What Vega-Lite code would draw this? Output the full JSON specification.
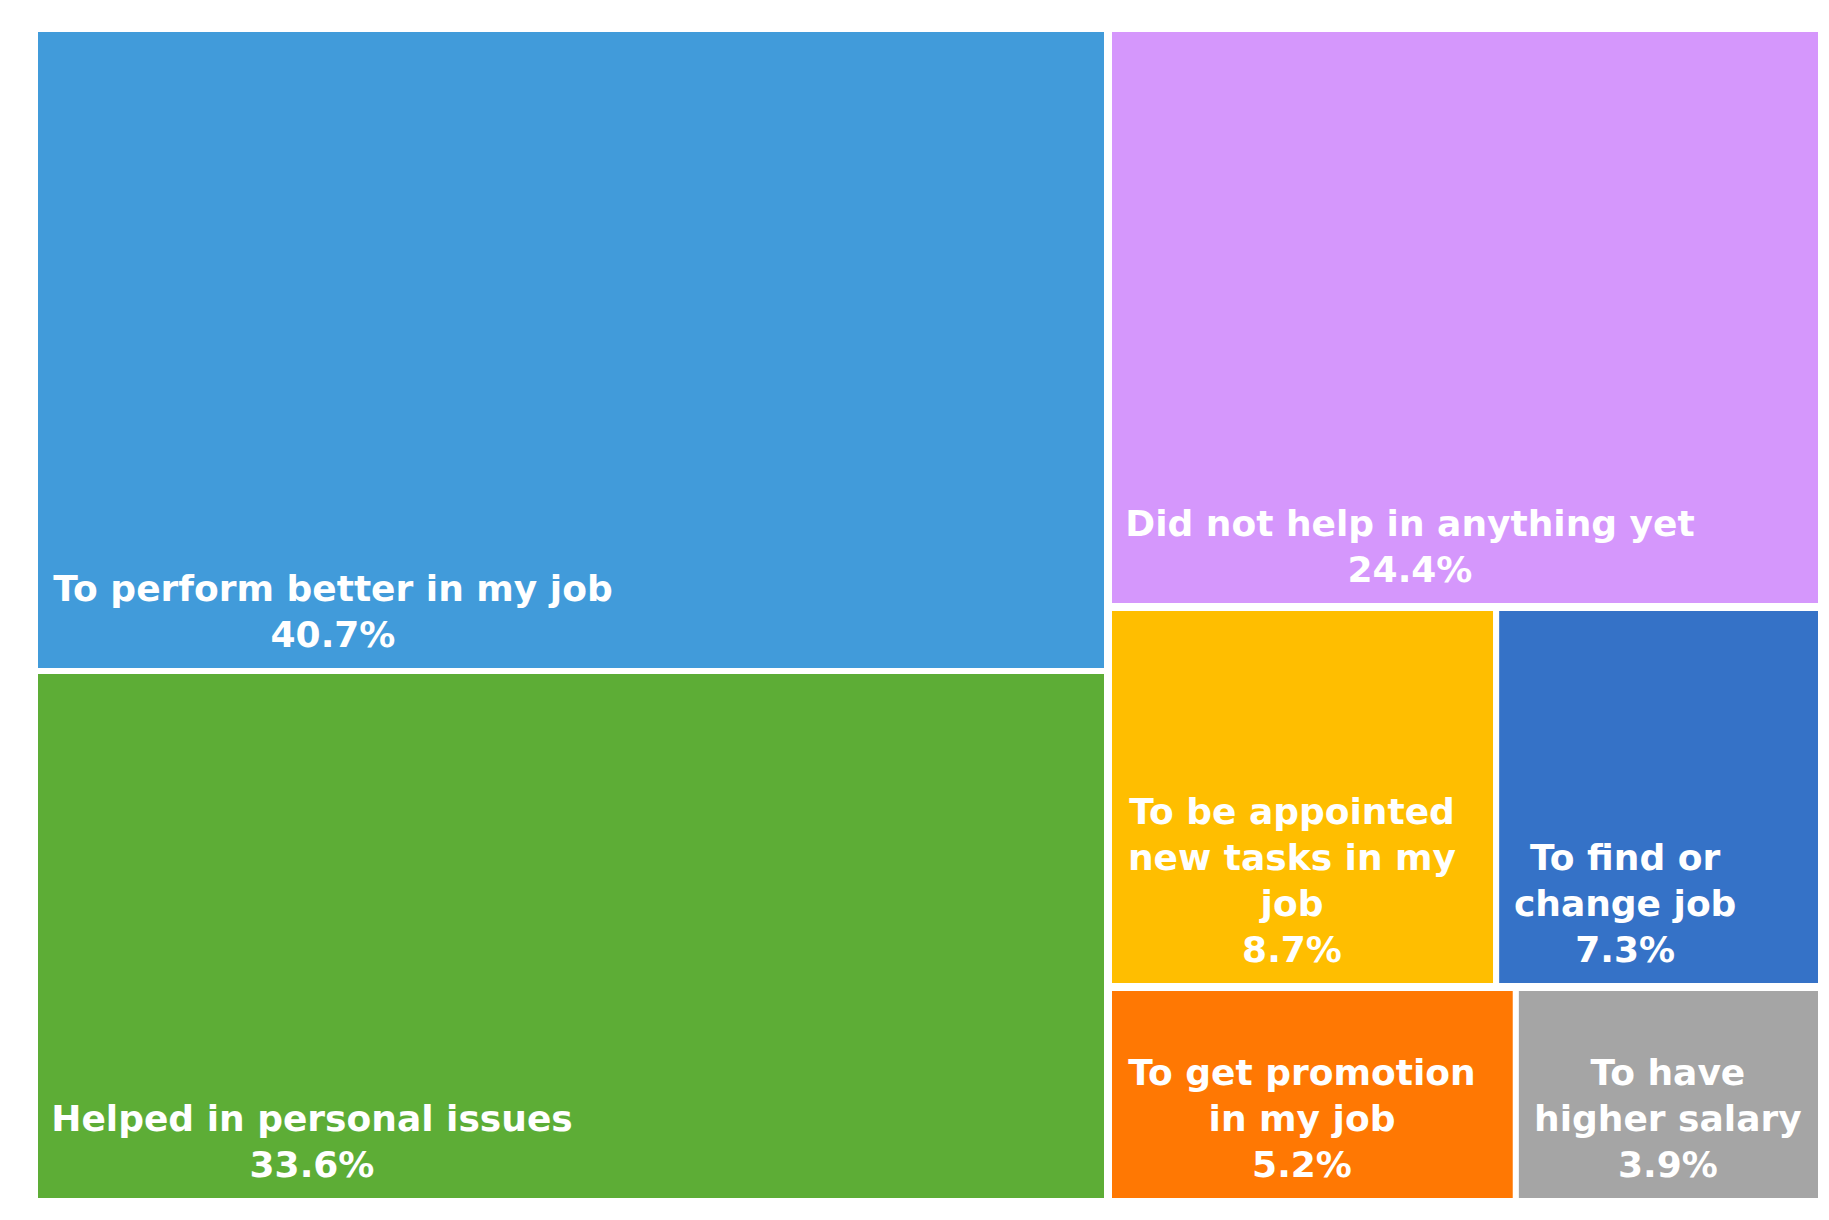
{
  "$schema": "https://vega.github.io/schema/vega-lite/v6.json",
  "description": "Treemap of what the training helped with",
  "background": "white",
  "padding": {"left": 32, "top": 26, "right": 5, "bottom": 16},
  "bounds": "flush",
  "spacing": 2,
  "data": {
    "values": [
      {"name": "To perform better in my job", "share": 0.407, "group": "left", "rank": 1},
      {"name": "Helped in personal issues", "share": 0.336, "group": "left", "rank": 2},
      {"name": "Did not help in anything yet", "share": 0.244, "group": "top", "rank": 1},
      {"name": "To be appointed\nnew tasks in my\njob", "share": 0.087, "group": "middle", "rank": 1},
      {"name": "To find or\nchange job", "share": 0.073, "group": "middle", "rank": 2},
      {"name": "To get promotion\nin my job", "share": 0.052, "group": "bottom", "rank": 1},
      {"name": "To have\nhigher salary", "share": 0.039, "group": "bottom", "rank": 2}
    ]
  },
  "resolve": {"scale": {"x": "independent", "y": "independent"}},
  "hconcat": [
    {
      "width": 1072,
      "height": 1172,
      "transform": [
        {"filter": "datum.group === 'left'"},
        {"stack": "share", "groupby": [], "sort": [{"field": "rank", "order": "ascending"}], "offset": "normalize", "as": ["p0", "p1"]}
      ],
      "layer": [
        {
          "mark": {"type": "rect", "stroke": "white", "strokeWidth": 6},
          "encoding": {
            "x": {"value": 0},
            "x2": {"value": "width"},
            "y": {"field": "p0", "type": "quantitative", "scale": {"domain": [0, 1], "reverse": true, "nice": false, "zero": false}, "axis": null},
            "y2": {"field": "p1"},
            "color": {"field": "name", "type": "nominal", "legend": null, "scale": {
              "domain": ["To perform better in my job", "Helped in personal issues", "Did not help in anything yet", "To be appointed\nnew tasks in my\njob", "To find or\nchange job", "To get promotion\nin my job", "To have\nhigher salary"],
              "range": ["#419BDA", "#5DAD36", "#D597FC", "#FFBE00", "#3572C7", "#FF7803", "#A5A5A5"]}}
          }
        },
        {
          "transform": [{"filter": "datum.rank === 1"}],
          "encoding": {"x": {"value": 0}, "y": {"field": "p1", "type": "quantitative"}},
          "layer": [
            {"mark": {"type": "text", "dx": 298, "dy": -62}, "encoding": {"text": {"field": "name"}}},
            {"mark": {"type": "text", "dx": 298, "dy": -16}, "encoding": {"text": {"field": "share", "format": ".1%"}}}
          ]
        },
        {
          "transform": [{"filter": "datum.rank === 2"}],
          "encoding": {"x": {"value": 0}, "y": {"field": "p1", "type": "quantitative"}},
          "layer": [
            {"mark": {"type": "text", "dx": 277, "dy": -62}, "encoding": {"text": {"field": "name"}}},
            {"mark": {"type": "text", "dx": 277, "dy": -16}, "encoding": {"text": {"field": "share", "format": ".1%"}}}
          ]
        }
      ]
    },
    {
      "resolve": {"scale": {"x": "independent", "y": "independent"}},
      "bounds": "flush",
      "spacing": 2,
      "vconcat": [
        {
          "width": 712,
          "height": 577,
          "transform": [
            {"filter": "datum.group === 'top'"},
            {"stack": "share", "groupby": [], "sort": [{"field": "rank", "order": "ascending"}], "offset": "normalize", "as": ["p0", "p1"]}
          ],
          "layer": [
            {
              "mark": {"type": "rect", "stroke": "white", "strokeWidth": 6},
              "encoding": {
                "x": {"field": "p0", "type": "quantitative", "scale": {"domain": [0, 1], "nice": false, "zero": false}, "axis": null},
                "x2": {"field": "p1"},
                "y": {"value": 0},
                "y2": {"value": "height"},
                "color": {"field": "name", "type": "nominal", "legend": null}
              }
            },
            {
              "encoding": {"x": {"field": "p0", "type": "quantitative"}, "y": {"value": "height"}},
              "layer": [
                {"mark": {"type": "text", "dx": 301, "dy": -62}, "encoding": {"text": {"field": "name"}}},
                {"mark": {"type": "text", "dx": 301, "dy": -16}, "encoding": {"text": {"field": "share", "format": ".1%"}}}
              ]
            }
          ]
        },
        {
          "width": 712,
          "height": 378,
          "transform": [
            {"filter": "datum.group === 'middle'"},
            {"stack": "share", "groupby": [], "sort": [{"field": "rank", "order": "ascending"}], "offset": "normalize", "as": ["p0", "p1"]}
          ],
          "layer": [
            {
              "mark": {"type": "rect", "stroke": "white", "strokeWidth": 6},
              "encoding": {
                "x": {"field": "p0", "type": "quantitative", "scale": {"domain": [0, 1], "nice": false, "zero": false}, "axis": null},
                "x2": {"field": "p1"},
                "y": {"value": 0},
                "y2": {"value": "height"},
                "color": {"field": "name", "type": "nominal", "legend": null}
              }
            },
            {
              "transform": [{"filter": "datum.rank === 1"}],
              "encoding": {"x": {"field": "p0", "type": "quantitative"}, "y": {"value": "height"}},
              "layer": [
                {"mark": {"type": "text", "dx": 183, "dy": -154}, "encoding": {"text": {"field": "name"}}},
                {"mark": {"type": "text", "dx": 183, "dy": -16}, "encoding": {"text": {"field": "share", "format": ".1%"}}}
              ]
            },
            {
              "transform": [{"filter": "datum.rank === 2"}],
              "encoding": {"x": {"field": "p0", "type": "quantitative"}, "y": {"value": "height"}},
              "layer": [
                {"mark": {"type": "text", "dx": 129, "dy": -108}, "encoding": {"text": {"field": "name"}}},
                {"mark": {"type": "text", "dx": 129, "dy": -16}, "encoding": {"text": {"field": "share", "format": ".1%"}}}
              ]
            }
          ]
        },
        {
          "width": 712,
          "height": 213,
          "transform": [
            {"filter": "datum.group === 'bottom'"},
            {"stack": "share", "groupby": [], "sort": [{"field": "rank", "order": "ascending"}], "offset": "normalize", "as": ["p0", "p1"]}
          ],
          "layer": [
            {
              "mark": {"type": "rect", "stroke": "white", "strokeWidth": 6},
              "encoding": {
                "x": {"field": "p0", "type": "quantitative", "scale": {"domain": [0, 1], "nice": false, "zero": false}, "axis": null},
                "x2": {"field": "p1"},
                "y": {"value": 0},
                "y2": {"value": "height"},
                "color": {"field": "name", "type": "nominal", "legend": null}
              }
            },
            {
              "transform": [{"filter": "datum.rank === 1"}],
              "encoding": {"x": {"field": "p0", "type": "quantitative"}, "y": {"value": "height"}},
              "layer": [
                {"mark": {"type": "text", "dx": 193, "dy": -108}, "encoding": {"text": {"field": "name"}}},
                {"mark": {"type": "text", "dx": 193, "dy": -16}, "encoding": {"text": {"field": "share", "format": ".1%"}}}
              ]
            },
            {
              "transform": [{"filter": "datum.rank === 2"}],
              "encoding": {"x": {"field": "p0", "type": "quantitative"}, "y": {"value": "height"}},
              "layer": [
                {"mark": {"type": "text", "dx": 152, "dy": -108}, "encoding": {"text": {"field": "name"}}},
                {"mark": {"type": "text", "dx": 152, "dy": -16}, "encoding": {"text": {"field": "share", "format": ".1%"}}}
              ]
            }
          ]
        }
      ]
    }
  ],
  "config": {
    "view": {"stroke": null},
    "text": {
      "font": "DejaVu Sans",
      "fontWeight": "bold",
      "fontSize": 36,
      "lineHeight": 46,
      "lineBreak": "\n",
      "align": "center",
      "baseline": "bottom",
      "color": "white",
      "fill": "white"
    }
  }
}
